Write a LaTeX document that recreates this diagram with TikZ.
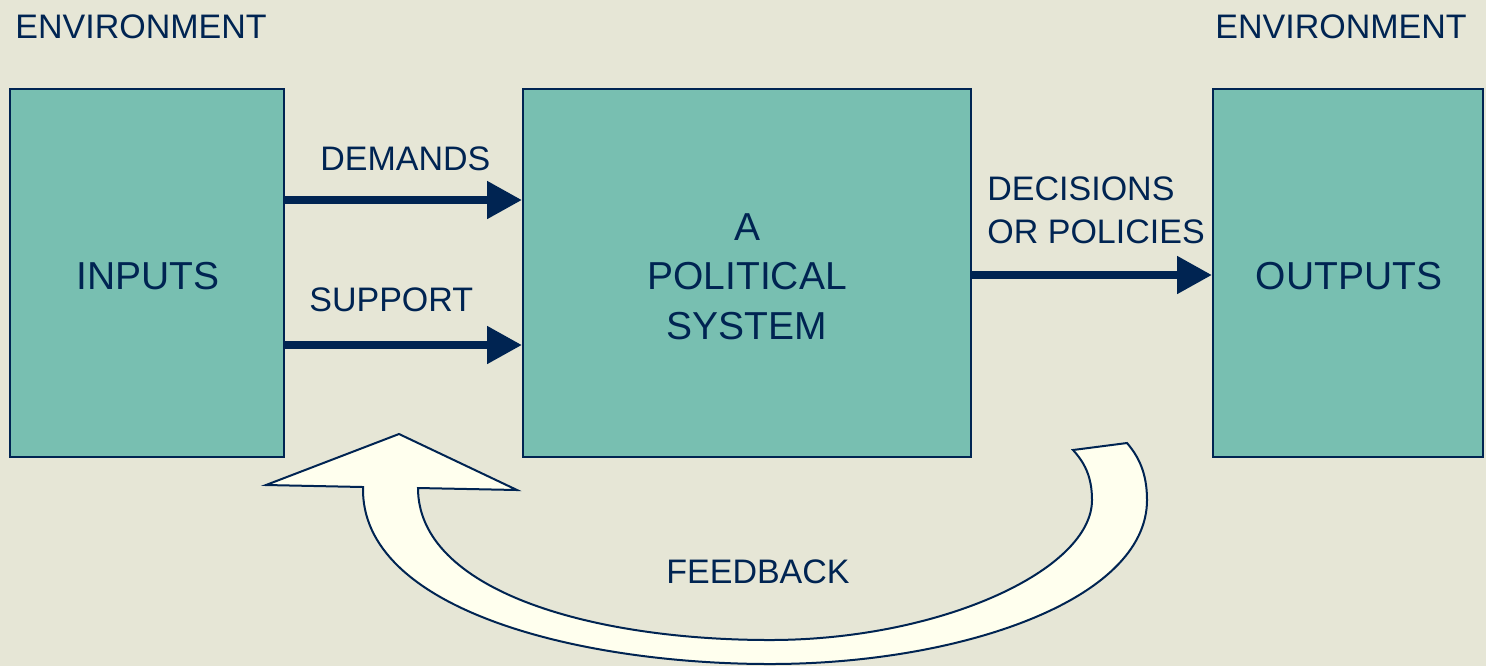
\documentclass[tikz,border=0pt]{standalone}
\usepackage{fontspec}
\setmainfont{Liberation Sans}
\usetikzlibrary{arrows.meta}
\definecolor{bgc}{HTML}{E6E6D6}
\definecolor{tealc}{HTML}{78BFB1}
\definecolor{navyc}{HTML}{002452}
\definecolor{creamc}{HTML}{FFFFEE}
\tikzset{
  sysbox/.style={draw=navyc, line width=1pt, fill=tealc, rectangle, inner sep=0pt,
     text=navyc, font=\fontsize{19.5}{24.75}\selectfont, align=center},
  lbl/.style={text=navyc, inner sep=0pt, font=\fontsize{17}{21.5}\selectfont},
  flow/.style={draw=navyc, line width=4pt, -{Triangle[length=17.5pt,width=18pt]}, shorten >=0pt},
  fback/.style={draw=navyc, line width=1pt, fill=creamc, line join=miter}
}
\begin{document}
\begin{tikzpicture}[x=0.5pt,y=-0.5pt]
\useasboundingbox (0,0) rectangle (1486,666);
\fill[bgc] (0,0) rectangle (1486,666);

% boxes
\node[sysbox, minimum width=137pt, minimum height=184pt] (inputs) at (147,273) {};
\node[sysbox, minimum width=224pt, minimum height=184pt] (pol) at (747,273) {};
\node[sysbox, minimum width=135pt, minimum height=184pt] (outputs) at (1348,273) {};

% box labels
\node[lbl, font=\fontsize{19.5}{24.75}\selectfont, anchor=base] (tin) at (148,289) {INPUTS};
\node[lbl, font=\fontsize{19.5}{24.75}\selectfont, anchor=base] (ta) at (747,240) {A};
\node[lbl, font=\fontsize{19.5}{24.75}\selectfont, anchor=base] (tpol) at (747,289) {POLITICAL};
\node[lbl, font=\fontsize{19.5}{24.75}\selectfont, anchor=base] (tsys) at (747,339) {SYSTEM};
\node[lbl, font=\fontsize{19.5}{24.75}\selectfont, anchor=base] (tout) at (1349,289) {OUTPUTS};

% other labels
\node[lbl, anchor=base west] (envl) at (15,38) {ENVIRONMENT};
\node[lbl, anchor=base west] (envr) at (1215,38) {ENVIRONMENT};
\node[lbl, anchor=base west] (dem) at (320,170) {DEMANDS};
\node[lbl, anchor=base west] (sup) at (309,311) {SUPPORT};
\node[lbl, anchor=base west] (dec) at (987,200) {DECISIONS};
\node[lbl, anchor=base west] (pols) at (987,243) {OR POLICIES};
\node[lbl, anchor=base] (fb) at (758,583) {FEEDBACK};

% flows
\coordinate (y1) at (0,200);
\coordinate (y2) at (0,345);
\coordinate (y3) at (0,275);
\draw[flow] (inputs.east |- y1) -- (pol.west |- y1);
\draw[flow] (inputs.east |- y2) -- (pol.west |- y2);
\draw[flow] (pol.east |- y3) -- (outputs.west |- y3);

% feedback arrow
\draw[fback] (418,488) -- (517,490) -- (399,434) -- (266,485) -- (363,487)
  .. controls (360,610) and (580,664) .. (770,664)
  .. controls (960,664) and (1147,600) .. (1147,500)
  .. controls (1147,472) and (1138,456) .. (1127,443)
  -- (1073,450)
  .. controls (1084,462) and (1092,476) .. (1092,500)
  .. controls (1092,570) and (940,640) .. (770,640)
  .. controls (590,640) and (418,590) .. (418,488) -- cycle;
\end{tikzpicture}
\end{document}
